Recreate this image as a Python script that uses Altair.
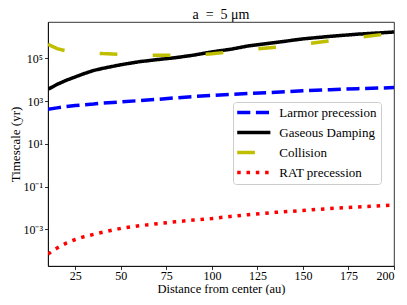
import altair as alt
import pandas as pd

# Distance from center (au)
distance = [10, 15, 20, 25, 30, 35, 40, 50, 60, 70, 80, 90, 100, 110, 120, 135, 150, 165, 180, 200]

# Timescales (yr)
larmor = [417, 479, 550, 617, 676, 724, 794, 912, 1047, 1202, 1413, 1622, 1820, 2042,
          2239, 2570, 3020, 3388, 3802, 4266]
gaseous = [3548, 6026, 9333, 13490, 19500, 26900, 33900, 50100, 69200, 87100, 107000,
           141000, 200000, 263000, 380000, 550000, 813000, 1070000, 1350000, 1700000]
collision = [447000, 282000, 224000, 200000, 186000, 178000, 166000, 151000, 141000,
             138000, 138000, 145000, 162000, 200000, 251000, 331000, 457000, 661000,
             955000, 1510000]
rat = [6.92e-5, 1.32e-4, 2.24e-4, 3.31e-4, 4.57e-4, 5.75e-4, 7.24e-4, 1.10e-3, 1.45e-3,
       1.82e-3, 2.24e-3, 2.69e-3, 3.16e-3, 3.98e-3, 4.79e-3, 6.17e-3, 7.59e-3, 9.33e-3,
       1.10e-2, 1.35e-2]

series_names = ["Larmor precession", "Gaseous Damping", "Collision", "RAT precession"]
series_values = [larmor, gaseous, collision, rat]
series_colors = ["#0000ff", "#000000", "#bfbf00", "#ff0000"]
series_dashes = [[13.1, 5.6], [1, 0], [17.7, 35.3], [3.5, 5.8]]

x_ticks = [25, 50, 75, 100, 125, 150, 175, 200]
y_ticks = [1e-3, 1e-1, 1e1, 1e3, 1e5]
y_exponents = [-3, -1, 1, 3, 5]
y_tick_labels = ["10⁻³", "10⁻¹", "10¹", "10³", "10⁵"]

rows = []
for name, vals in zip(series_names, series_values):
    for d, v in zip(distance, vals):
        rows.append({"distance": d, "timescale": v, "series": name})
df = pd.DataFrame(rows)

label_expr = " : ".join(
    f"abs(log(datum.value)/LN10 - ({e})) < 0.01 ? '{lab}'"
    for e, lab in zip(y_exponents, y_tick_labels)
) + " : ''"

FONT = "Liberation Serif"

legend = alt.Legend(
    title=None, orient="none", legendX=185, legendY=80,
    fillColor="rgba(255,255,255,0.85)", strokeColor="#cccccc", cornerRadius=3,
    padding=4, rowPadding=5, symbolType="M-5,0H5", symbolSize=44,
    symbolOffset=10.3, symbolStrokeWidth=3.5, labelFont=FONT, labelFontSize=13,
    labelOffset=19, labelColor="black",
)

chart = alt.Chart(df).mark_line(strokeWidth=3.5, clip=True).encode(
    x=alt.X("distance:Q",
            scale=alt.Scale(domain=[10, 200], nice=False, zero=False),
            axis=alt.Axis(values=x_ticks, title="Distance from center (au)",
                          grid=False, tickSize=3.5, labelPadding=1,
                          labelFontSize=12, titleFontSize=12.5,
                          titleY=26, titleBaseline="alphabetic")),
    y=alt.Y("timescale:Q",
            scale=alt.Scale(type="log", domain=[1.905e-5, 5.01e6], nice=False),
            axis=alt.Axis(values=y_ticks, labelExpr=label_expr, title="Timescale (yr)",
                          grid=False, tickSize=3.5, labelPadding=2,
                          labelFontSize=12, titleFontSize=13,
                          titleX=-29, titleY=122, titleAngle=270,
                          titleBaseline="alphabetic", titleAlign="center")),
    color=alt.Color("series:N",
                    scale=alt.Scale(domain=series_names, range=series_colors),
                    legend=legend),
    strokeDash=alt.StrokeDash("series:N",
                              scale=alt.Scale(domain=series_names, range=series_dashes),
                              legend=legend),
).properties(
    width=346, height=244,
    autosize=alt.AutoSizeParams(type="none"),
    padding={"left": 40, "top": 14, "right": 5, "bottom": 29},
    title=alt.Title("a\u2002=\u20025 μm", font=FONT, fontSize=14, fontWeight="normal",
                    anchor="middle", frame="group", offset=0, color="black"),
).configure(
    font=FONT
).configure_view(
    stroke="black", strokeWidth=0.8
).configure_axis(
    labelFont=FONT, titleFont=FONT, labelColor="black", titleColor="black",
    titleFontWeight="normal", domainColor="black", domainWidth=0.8,
    tickColor="black", tickWidth=0.8,
)

chart.save("out.html", embed_options={"renderer": "svg", "actions": False})
